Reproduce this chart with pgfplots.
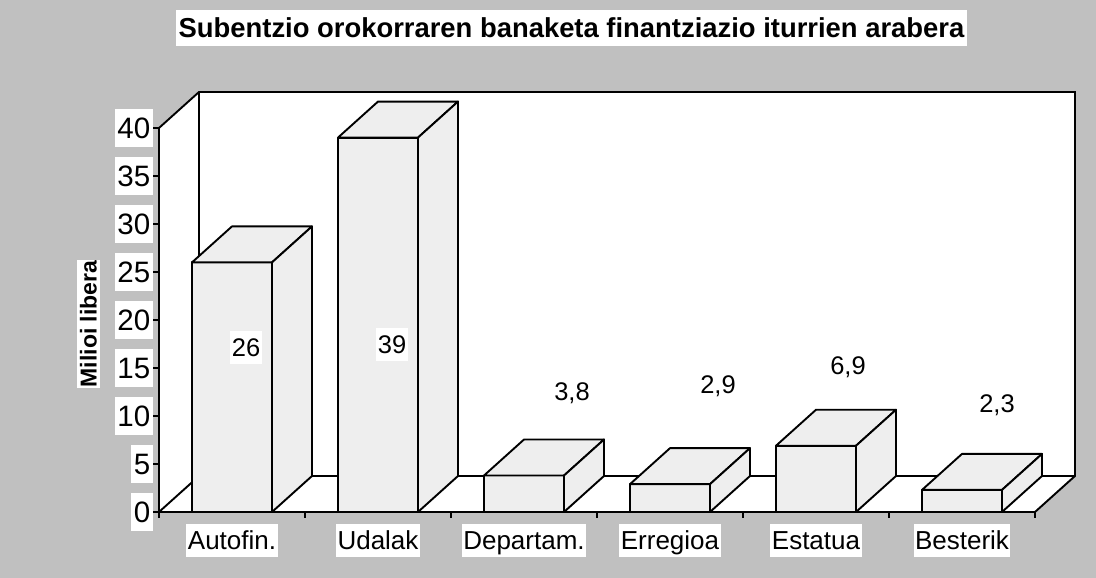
\documentclass[border=0pt]{standalone}
\usepackage{pgfplots}
\pgfplotsset{compat=1.18}
\usepackage{pgfplotstable}
\usepackage{fontspec}
\setmainfont{Liberation Sans}
\definecolor{bg}{HTML}{C0C0C0}
\definecolor{barfill}{HTML}{EEEEEE}

\pgfplotstableread{
x v
0 26
1 39
2 3.8
3 2.9
4 6.9
5 2.3
}\bardata

\pgfplotstableread{
x y lab
0.596 17.14 26
1.596 17.45 39
2.829 12.6 3,8
3.829 13.28 2,9
4.719 15.26 6,9
5.740 11.3 2,3
}\labdata

\begin{document}
\begin{tikzpicture}
\fill[bg] (-159pt,-66pt) rectangle (937pt,512pt);
\begin{axis}[
  at={(0pt,0pt)}, anchor=south west,
  scale only axis, width=916pt, height=420pt,
  xmin=0, xmax=6.274, ymin=0, ymax=43.75,
  axis lines*=left, axis line style={draw=none},
  clip=false,
  ytick={0,5,...,40},
  xtick={0,1,...,6},
  xticklabels={,,,,,,},
  extra x ticks={0.5,1.5,2.5,3.5,4.5,5.5},
  extra x tick labels={Autofin.,Udalak,Departam.,Erregioa,Estatua,Besterik},
  extra x tick style={major tick length=0pt,
    xticklabel style={font=\fontsize{26}{26}\selectfont, fill=white,
      text height=18.6pt, text depth=0pt, inner ysep=7pt, inner xsep=1.5pt,
      anchor=center, yshift=-28.7pt}},
  tick align=outside,
  major tick length=6pt,
  tick style={black, line width=1.9pt},
  /pgf/number format/assume math mode=true,
  yticklabel style={font=\fontsize{29.5}{29.5}\selectfont, fill=white,
    text height=21pt, text depth=0pt, inner ysep=8.5pt, inner xsep=2.5pt},
  title={Subentzio orokorraren banaketa finantziazio iturrien arabera},
  title style={at={(axis description cs:0.4503,1.138)}, anchor=center,
    font=\bfseries\fontsize{27.4}{27.4}\selectfont, fill=white,
    inner xsep=3pt, text height=19.6pt, text depth=0pt, inner ysep=8.2pt},
  ylabel={Milioi libera},
  ylabel style={at={(axis description cs:-0.077,0.4476)}, anchor=center,
    font=\bfseries\fontsize{23}{23}\selectfont, fill=white,
    inner xsep=1pt, text height=16.5pt, text depth=0pt, inner ysep=3.3pt},
  face/.style={fill=barfill, draw=black, line width=1.9pt, line join=round},
]
% floor and walls
\addplot[fill=white, draw=none] coordinates {(0,0) (0,40) (0.274,43.75) (6.274,43.75) (6.274,3.75) (6,0)} -- cycle;
\addplot[black, line width=1.9pt] coordinates {(0.274,43.75) (0.274,3.75) (6.274,3.75)};
\addplot[black, line width=1.9pt] coordinates {(0,0) (0.274,3.75)};
\addplot[black, line width=1.9pt, line join=miter] coordinates {(0,0) (0,40) (0.274,43.75) (6.274,43.75) (6.274,3.75) (6,0)} -- cycle;
% bars: front faces
\addplot[ybar, bar width=0.548, bar shift=0pt, face] table[x expr=\thisrow{x}+0.5, y=v] {\bardata};
% bars: top and side faces
\pgfplotsforeachungrouped \i in {0,...,5}{%
  \pgfplotstablegetelem{\i}{v}\of\bardata
  \pgfmathsetmacro\va{\pgfplotsretval}%
  \pgfmathsetmacro\vb{\va+3.75}%
  \pgfmathsetmacro\xl{\i+0.226}%
  \pgfmathsetmacro\xr{\i+0.774}%
  \pgfmathsetmacro\xlb{\i+0.5}%
  \pgfmathsetmacro\xrb{\i+1.048}%
  \edef\cmd{%
    \noexpand\addplot[face] coordinates {(\xl,\va) (\xr,\va) (\xrb,\vb) (\xlb,\vb)} -- cycle;
    \noexpand\addplot[face] coordinates {(\xr,0) (\xr,\va) (\xrb,\vb) (\xrb,3.75)} -- cycle;
  }%
  \cmd
}
% value labels
\addplot[draw=none, mark=none, nodes near coords, point meta=explicit symbolic,
  nodes near coords align=center,
  every node near coord/.style={font=\fontsize{25.5}{25.5}\selectfont, fill=white, text=black,
    text height=18.3pt, text depth=0pt, inner ysep=7pt, inner xsep=1.5pt, anchor=center}]
  table[meta=lab] {\labdata};
\end{axis}
\pgfresetboundingbox
\path[use as bounding box] (-159pt,-66pt) rectangle (937pt,512pt);
\end{tikzpicture}
\end{document}
